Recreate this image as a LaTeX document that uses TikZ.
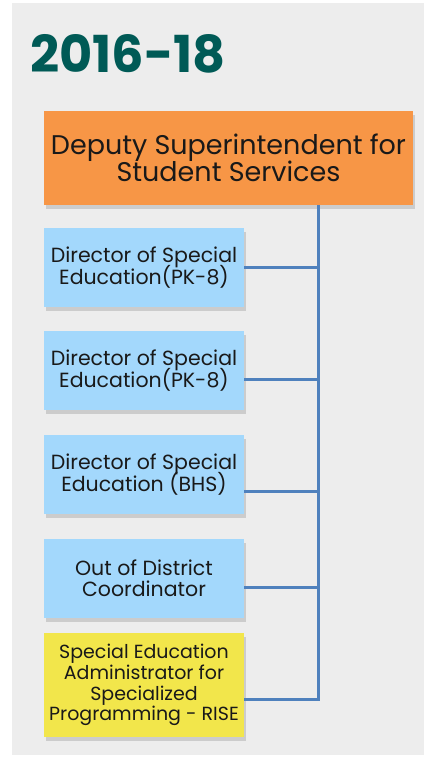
\documentclass[tikz,border=0pt]{standalone}
\usepackage{fontspec}
\setmainfont{Poppins}
\usetikzlibrary{shadows, positioning, calc}
\definecolor{panelgray}{HTML}{EDEDED}
\definecolor{titleteal}{HTML}{005A56}
\definecolor{bossorange}{HTML}{F79646}
\definecolor{dirblue}{HTML}{A3D8FC}
\definecolor{riseyellow}{HTML}{F2E64B}
\definecolor{linkblue}{HTML}{4F81BD}
\newcommand\tightlines{\lineskiplimit=-20pt\relax}
\tikzset{
    post/.style = {rectangle, align=center, inner sep=1pt, text=black!90,
        drop shadow={shadow xshift=2pt, shadow yshift=-4pt, opacity=0.3}},
    conn/.style = {draw=linkblue, line width=3pt}
}
\begin{document}
\begin{tikzpicture}[x=1pt, y=-1pt]
    \useasboundingbox (0,0) rectangle (424,759);
    \fill[panelgray] (12,3) rectangle (424,755);
    \node[anchor=base west, inner sep=0pt, text=titleteal, font=\fontsize{51}{56}\selectfont\bfseries] (title) at (30,73) {2016-18};
    \begin{scope}[every node/.style = {font=\fontsize{20.5}{21.5}\selectfont\tightlines}]
        \node[post, fill=bossorange, minimum width=369pt, minimum height=94pt, font=\fontsize{27}{27}\selectfont\tightlines] (boss) at (228.5,158) {Deputy Superintendent for\\Student Services};
        \node[post, fill=dirblue, minimum width=200pt, minimum height=79pt] (dirA) at (144,267.5) {Director of Special\\Education(PK-8)};
        \node[post, fill=dirblue, minimum width=200pt, minimum height=79pt] (dirB) at (144,370.5) {Director of Special\\Education(PK-8)};
        \node[post, fill=dirblue, minimum width=200pt, minimum height=79pt] (dirC) at (144,474.5) {Director of Special\\Education (BHS)};
        \node[post, fill=dirblue, minimum width=200pt, minimum height=79pt] (ood) at (144,578.5) {Out of District\\Coordinator};
        \node[post, fill=riseyellow, minimum width=200pt, minimum height=104pt, font=\fontsize{19}{20.7}\selectfont\tightlines] (rise) at (144,685) {Special Education\\Administrator for\\Specialized\\Programming - RISE};
    \end{scope}
    \coordinate (trunk) at (318,699);
    % vertical spine and branches
    \draw[conn] (boss.south -| trunk) -- (trunk) -- (rise.east |- trunk);
    \foreach \n/\y in {dirA/267, dirB/379, dirC/491, ood/587}{
        \draw[conn] (\n.east |- 0,\y) -- (trunk |- 0,\y);
    }
\end{tikzpicture}
\end{document}
